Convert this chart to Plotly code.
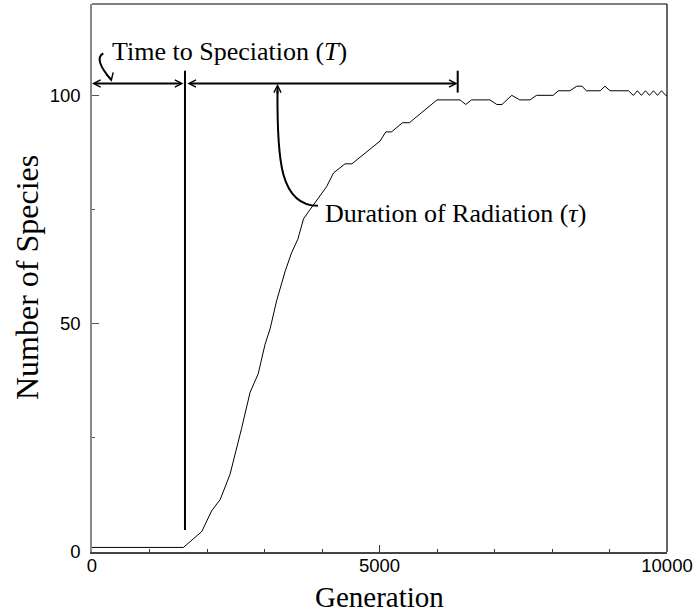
import plotly.graph_objects as go

# ---- data ----
generation = [0, 1590, 1910, 2080, 2230, 2400, 2600, 2750, 2890, 3010, 3100, 3210,
              3360, 3470, 3580, 3680, 3850, 4000, 4080, 4200, 4400, 4520, 5010,
              5110, 5210, 5400, 5520, 6000, 6400, 6500, 6600, 6920, 7040, 7130,
              7300, 7440, 7620, 7730, 8020, 8110, 8310, 8430, 8520, 8600, 8840,
              8920, 9010, 9330, 9415, 9485, 9555, 9625, 9695, 9765, 9835, 9905,
              9977, 10000]
species = [1, 1, 4.5, 9, 11.5, 17, 27, 35, 39, 45.5, 49, 55,
           61.5, 65.5, 68.5, 73, 76, 78.5, 80, 83, 85, 85, 90,
           92, 92, 94, 94, 99, 99, 98, 99, 99, 98, 98,
           100, 99, 99, 100, 100, 101, 101, 102, 102, 101, 101,
           102, 101, 101, 100, 101, 100, 101, 100, 101, 100, 101,
           100, 100]

x_ticks = [0, 5000, 10000]
y_ticks = [0, 50, 100]

x_title = "Generation"
y_title = "Number of Species"

# annotation anchors (data units)
t_speciation = 1617      # end of time to speciation
t_radiation_end = 6360   # end of radiation
arrow_level = 102.6
marker_top = 105.4
marker_low = 4.8
bar_low = 100.6

label_T = "Time to Speciation (<i>T</i>)"
label_tau = "Duration of Radiation (<i>τ</i>)"

serif = "Liberation Serif"
sans = "Liberation Sans"

fig = go.Figure()
fig.add_trace(go.Scatter(x=generation, y=species, mode="lines",
                         line=dict(color="black", width=1), showlegend=False,
                         hoverinfo="skip"))

shapes = [
    dict(type="line", xref="x", yref="y", x0=t_speciation, x1=t_speciation,
         y0=marker_low, y1=marker_top, line=dict(color="black", width=2)),
    dict(type="line", xref="x", yref="y", x0=t_radiation_end, x1=t_radiation_end,
         y0=bar_low, y1=marker_top, line=dict(color="black", width=2)),
    dict(type="path", xref="x", yref="y",
         path="M 197,109.2 C 70,108.4 139,106.1 335,103.4",
         line=dict(color="black", width=2)),
    dict(type="path", xref="x", yref="y",
         path="M 3930,75.8 C 3270,75.9 3217,85.8 3226,101.0",
         line=dict(color="black", width=2)),
    dict(type="line", xref="paper", yref="paper", x0=0, x1=1, y0=1, y1=1,
         line=dict(color="black", width=1.2)),
    dict(type="line", xref="paper", yref="paper", x0=1, x1=1, y0=0, y1=1,
         line=dict(color="black", width=1.2)),
]

arrow_common = dict(xref="x", yref="y", axref="x", ayref="y", text="",
                    showarrow=True, arrowcolor="black", arrowwidth=2,
                    arrowhead=5, arrowsize=0.7, standoff=0, startstandoff=0)
annotations = [
    dict(x=0, y=arrow_level, ax=t_speciation, ay=arrow_level,
         arrowside="end+start", startarrowhead=5, startarrowsize=0.7, **arrow_common),
    dict(x=t_radiation_end, y=arrow_level, ax=t_speciation + 15, ay=arrow_level,
         arrowside="end+start", startarrowhead=5, startarrowsize=0.7, **arrow_common),
    dict(x=343, y=103.0, ax=320, ay=104.2, **arrow_common),
    dict(x=3226, y=102.5, ax=3226, ay=100.0, **arrow_common),
    dict(x=313, y=109.5, xref="x", yref="y", text=label_T, showarrow=False,
         xanchor="left", yanchor="middle", font=dict(family=serif, size=26, color="black")),
    dict(x=4017, y=74.2, xref="x", yref="y", text=label_tau, showarrow=False,
         xanchor="left", yanchor="middle", font=dict(family=serif, size=26, color="black")),
    # axis titles
    dict(x=0.5, y=-0.0815, xref="paper", yref="paper", text=x_title, showarrow=False,
         xanchor="center", yanchor="middle", font=dict(family=serif, size=29, color="black")),
    dict(x=-0.113, y=0.5, xref="paper", yref="paper", text=y_title, showarrow=False,
         textangle=-90, xanchor="center", yanchor="middle",
         font=dict(family=serif, size=32, color="black")),
]

fig.update_layout(
    width=696, height=615,
    margin=dict(l=92, r=29, t=4, b=63),
    paper_bgcolor="white", plot_bgcolor="white",
    shapes=shapes, annotations=annotations,
    xaxis=dict(range=[0, 10000], tickvals=x_ticks, ticktext=[str(v) for v in x_ticks],
               ticks="inside", ticklen=7, tickwidth=1, tickcolor="#333",
               minor=dict(dtick=1000, ticks="inside", ticklen=3.5, tickcolor="#333"),
               showline=True, linecolor="#444", linewidth=1.5, showgrid=False,
               zeroline=False, tickfont=dict(family=sans, size=18.5, color="black"),
               ticklabelstandoff=-4),
    yaxis=dict(range=[0, 120], tickvals=y_ticks, ticktext=[str(v) for v in y_ticks],
               ticks="inside", ticklen=7, tickwidth=1, tickcolor="#555",
               minor=dict(dtick=25, ticks="inside", ticklen=3.5, tickcolor="#555"),
               showline=True, linecolor="#888", linewidth=1.5, showgrid=False,
               zeroline=False, tickfont=dict(family=sans, size=18.5, color="black"),
               ticklabelstandoff=6),
)

fig.write_html("out.html")
